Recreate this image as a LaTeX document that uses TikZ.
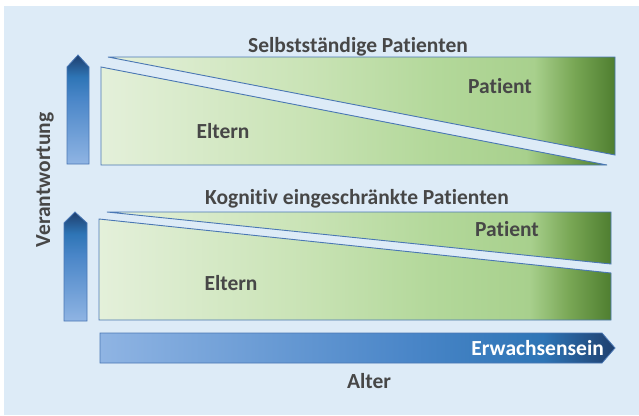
\documentclass[tikz,border=0pt]{standalone}
\usepackage{fontspec}
\setmainfont{Carlito}[Ligatures={NoCommon}]
\definecolor{bg}{HTML}{DDEBF7}
\definecolor{txt}{HTML}{474747}
\definecolor{edge}{HTML}{4A77B4}
\definecolor{ga}{HTML}{E4F0DA}
\definecolor{gb}{HTML}{C9E3B5}
\definecolor{gc}{HTML}{B3D89A}
\definecolor{gd}{HTML}{A8D08D}
\definecolor{ge}{HTML}{78A654}
\definecolor{gf}{HTML}{4F7E30}
\definecolor{ba}{HTML}{8FB4E3}
\definecolor{bb}{HTML}{4A86C8}
\definecolor{bc}{HTML}{2E75B6}
\definecolor{bd}{HTML}{1F3F6E}
\pgfdeclarehorizontalshading{greens}{100bp}{color(0bp)=(ga); color(25bp)=(ga); color(45bp)=(gb); color(57.5bp)=(gc); color(67bp)=(gd); color(71bp)=(ge); color(75bp)=(gf); color(100bp)=(gf)}
\pgfdeclareverticalshading{bluesup}{100bp}{color(0bp)=(ba); color(25bp)=(ba); color(55bp)=(bb); color(65bp)=(bc); color(75bp)=(bd); color(100bp)=(bd)}
\pgfdeclarehorizontalshading{bluesright}{100bp}{color(0bp)=(ba); color(25bp)=(ba); color(55bp)=(bb); color(68bp)=(bc); color(75bp)=(bd); color(100bp)=(bd)}
\tikzset{
  greenshape/.style={shading=greens, draw=edge, line width=0.9pt, line join=miter},
  uparrow/.style={shading=bluesup, draw=edge, line width=0.8pt},
  rightarrow/.style={shading=bluesright, draw=edge, line width=0.8pt},
  lbl/.style={font=\fontsize{21.5}{25}\selectfont\bfseries, text=txt, inner sep=0pt},
}
\begin{document}
\begin{tikzpicture}[x=1pt,y=-1pt]
\fill[white] (0,0) rectangle (639,415);
\fill[bg] (4,6) rectangle (639,415);
\useasboundingbox (0,0) rectangle (639,415);
% top panel
\path[uparrow] (67,164) -- (67,67) -- (78,55) -- (89,67) -- (89,164) -- cycle;
\path[greenshape] (108,57) -- (615,57) -- (615,155) -- cycle;
\path[greenshape] (101,67) -- (607,165) -- (101,165) -- cycle;
\node[lbl] (t1) at (358,47) {Selbstständige Patienten};
\node[lbl] (p1) at (500,86) {Patient};
\node[lbl] (e1) at (223,131) {Eltern};
% bottom panel
\path[uparrow] (64,321) -- (64,223) -- (75,212) -- (87,223) -- (87,321) -- cycle;
\path[greenshape] (107,212) -- (611,212) -- (611,264) -- cycle;
\path[greenshape] (99,219) -- (611,273) -- (611,320) -- (99,320) -- cycle;
\node[lbl] (t2) at (357,199) {Kognitiv eingeschränkte Patienten};
\node[lbl] (p2) at (507,229) {Patient};
\node[lbl] (e2) at (231,283) {Eltern};
% age arrow
\path[rightarrow] (100,333) -- (602,333) -- (615,348) -- (602,363) -- (100,363) -- cycle;
\node[lbl, text=white, anchor=east] (er) at (604,348) {Erwachsensein};
\node[lbl] (al) at (369,381) {Alter};
\node[lbl, rotate=90] (ve) at (45,180) {Verantwortung};
\end{tikzpicture}
\end{document}
